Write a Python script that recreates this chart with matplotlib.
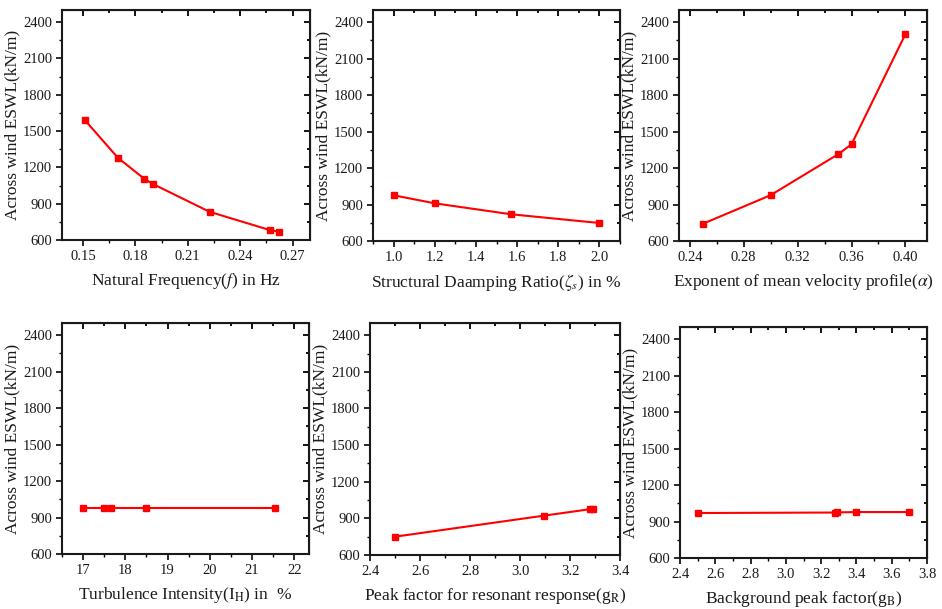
import matplotlib.pyplot as plt
from matplotlib.ticker import MultipleLocator, AutoMinorLocator

plt.rcParams['font.family'] = ['Liberation Serif', 'DejaVu Serif']
plt.rcParams['mathtext.fontset'] = 'stix'

# data
freq = [0.151, 0.170, 0.185, 0.190, 0.2225, 0.257, 0.2625]
eswl_freq = [1592, 1279, 1107, 1063, 833, 682, 668]

damp = [1.0, 1.2, 1.57, 2.0]
eswl_damp = [976, 910, 820, 748]

alpha = [0.25, 0.30, 0.35, 0.36, 0.40]
eswl_alpha = [743, 977, 1313, 1395, 2302]

turb = [17.0, 17.5, 17.65, 18.5, 21.55]
eswl_turb = [978, 978, 978, 978, 978]

g_r = [2.5, 3.095, 3.28, 3.29]
eswl_gr = [750, 922, 975, 977]

g_b = [2.5, 3.28, 3.29, 3.4, 3.7]
eswl_gb = [970, 974, 975, 978, 978]

ylabel = 'Across wind ESWL(kN/m)'

panels = [
    (freq, eswl_freq, 'Natural Frequency($\\it{f}$) in Hz', (0.138, 0.28), 0.03, '%.2f',
     [62, 10, 310, 240]),
    (damp, eswl_damp, 'Structural Daamping Ratio($\\zeta_s$) in %', (0.9, 2.1), 0.2, '%.1f',
     [373, 10, 620, 241]),
    (alpha, eswl_alpha, 'Exponent of mean velocity profile($\\alpha$)', (0.232, 0.416), 0.04, '%.2f',
     [679, 10, 927, 241]),
    (turb, eswl_turb, 'Turbulence Intensity(I$_\\mathrm{H}$) in  %', (16.5, 22.35), 1, '%d',
     [62, 323, 309, 554]),
    (g_r, eswl_gr, 'Peak factor for resonant response(g$_\\mathrm{R}$)', (2.4, 3.4), 0.2, '%.1f',
     [370, 323, 620, 555]),
    (g_b, eswl_gb, 'Background peak factor(g$_\\mathrm{B}$)', (2.4, 3.8), 0.2, '%.1f',
     [680, 327, 927, 558]),
]

W, H = 942, 609
fig = plt.figure(figsize=(W / 100, H / 100), dpi=100)

for x, y, xlabel, xlim, xstep, fmt, (l, t, r, b) in panels:
    ax = fig.add_axes([l / W, 1 - b / H, (r - l) / W, (b - t) / H])
    ax.plot(x, y, color='#ff0000', linewidth=1.5, marker='s', markersize=4.5)
    ax.set_xlim(*xlim)
    ax.set_ylim(600, 2500)
    ax.yaxis.set_major_locator(MultipleLocator(300))
    ax.xaxis.set_major_locator(MultipleLocator(xstep))
    ax.xaxis.set_major_formatter(plt.FormatStrFormatter(fmt))
    ax.xaxis.set_minor_locator(AutoMinorLocator(2))
    ax.yaxis.set_minor_locator(AutoMinorLocator(2))
    ax.tick_params(which='major', direction='out', length=4, width=1.3, labelsize=10.5,
                   colors='#1a1a1a', pad=3)
    ax.tick_params(which='minor', direction='out', length=2.5, width=1)
    for sp in ax.spines.values():
        sp.set_linewidth(1.5)
        sp.set_color('#1a1a1a')
    # inward ticks on top and right, no labels
    top = ax.secondary_xaxis('top')
    top.xaxis.set_major_locator(MultipleLocator(xstep))
    top.xaxis.set_minor_locator(AutoMinorLocator(2))
    top.tick_params(which='both', direction='in', labeltop=False, width=1.3)
    top.tick_params(which='major', length=4)
    top.tick_params(which='minor', length=2.5)
    right = ax.secondary_yaxis('right')
    right.yaxis.set_major_locator(MultipleLocator(300))
    right.yaxis.set_minor_locator(AutoMinorLocator(2))
    right.tick_params(which='both', direction='in', labelright=False, width=1.3)
    right.tick_params(which='major', length=4)
    right.tick_params(which='minor', length=2.5)
    ax.set_xlabel(xlabel, fontsize=12.5, color='#1a1a1a', labelpad=6)
    ax.set_ylabel(ylabel, fontsize=12.5, color='#1a1a1a', labelpad=2)

fig.savefig('out.png', dpi=100)
